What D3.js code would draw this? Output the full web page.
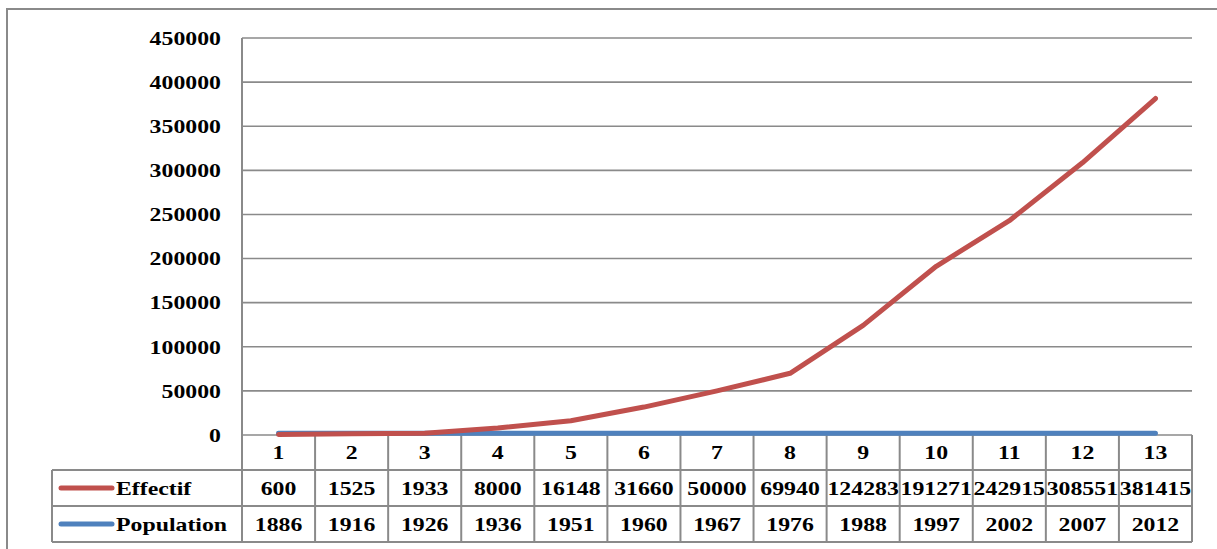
<!DOCTYPE html>
<html><head><meta charset="utf-8">
<script src="https://cdn.jsdelivr.net/npm/d3@7"></script>
<style>body{margin:0;background:#fff}svg{display:block}</style>
</head><body>
<script>
const categories = [1,2,3,4,5,6,7,8,9,10,11,12,13];
const effectif = [600,1525,1933,8000,16148,31660,50000,69940,124283,191271,242915,308551,381415];
const population = [1886,1916,1926,1936,1951,1960,1967,1976,1988,1997,2002,2007,2012];
const yTicks = [0,50000,100000,150000,200000,250000,300000,350000,400000,450000];
const seriesNames = ["Effectif","Population"];
const colors = ["#C0504D","#4F81BD"];

const W=1217,H=549;
const L=242,R=1192,T=38,B=435;
const rowTop=[435,470,506], rowBot=542, tableLeft=52;
const sx=1.22, fs=19.5;

const svg=d3.select("body").append("svg").attr("width",W).attr("height",H);
svg.append("rect").attr("x",7).attr("y",9).attr("width",1230).attr("height",560)
  .attr("fill","none").attr("stroke","#8a8a8a").attr("stroke-width",2);

const x=d3.scaleBand().domain(categories).range([L,R]);
const cx=c=>x(c)+x.bandwidth()/2;
const y=d3.scaleLinear().domain([0,450000]).range([B,T]);

function txt(g,xp,yp,s,anchor){
  const t=g.append("text").attr("x",xp).attr("y",yp)
    .attr("text-anchor",anchor).attr("dy","0.35em")
    .style("font-family",'"Liberation Serif"').style("font-weight","bold")
    .style("font-size",fs+"px").attr("fill","#000").text(s);
  const w=t.node().getComputedTextLength();
  t.attr("textLength",w*sx).attr("lengthAdjust","spacingAndGlyphs");
  return t;
}

// gridlines
const grid=svg.append("g");
yTicks.forEach(t=>{
  grid.append("line").attr("x1",L).attr("x2",R).attr("y1",y(t)).attr("y2",y(t))
    .attr("stroke","#8a8a8a").attr("stroke-width",1.6);
  txt(grid,221,y(t),d3.format("d")(t),"end");
});

// table
const tb=svg.append("g").attr("stroke","#8a8a8a").attr("stroke-width",2).attr("fill","none");
tb.append("line").attr("x1",L).attr("x2",L).attr("y1",T).attr("y2",rowBot);
tb.append("line").attr("x1",R).attr("x2",R).attr("y1",B).attr("y2",rowBot);
tb.append("line").attr("x1",tableLeft).attr("x2",tableLeft).attr("y1",rowTop[1]).attr("y2",rowBot);
tb.append("line").attr("x1",tableLeft).attr("x2",R).attr("y1",rowTop[1]).attr("y2",rowTop[1]);
tb.append("line").attr("x1",tableLeft).attr("x2",R).attr("y1",rowTop[2]).attr("y2",rowTop[2]);
tb.append("line").attr("x1",tableLeft).attr("x2",R).attr("y1",rowBot).attr("y2",rowBot);
categories.forEach(c=>{
  tb.append("line").attr("x1",x(c)).attr("x2",x(c)).attr("y1",B).attr("y2",rowBot);
});

const tg=svg.append("g");
categories.forEach((c,i)=>{
  txt(tg,cx(c),(rowTop[0]+rowTop[1])/2,String(c),"middle");
  txt(tg,cx(c),(rowTop[1]+rowTop[2])/2,String(effectif[i]),"middle");
  txt(tg,cx(c),(rowTop[2]+rowBot)/2,String(population[i]),"middle");
});
// legend keys in table
[[rowTop[1],rowTop[2]],[rowTop[2],rowBot]].forEach((r,k)=>{
  const ym=(r[0]+r[1])/2;
  tg.append("line").attr("x1",61).attr("x2",112).attr("y1",ym).attr("y2",ym)
    .attr("stroke",colors[k]).attr("stroke-width",5).attr("stroke-linecap","round");
  txt(tg,116,ym,seriesNames[k],"start");
});

// lines
const line=d3.line().x((d,i)=>cx(categories[i])).y(d=>y(d));
svg.append("path").datum(population).attr("d",line).attr("fill","none")
  .attr("stroke",colors[1]).attr("stroke-width",5).attr("stroke-linecap","round").attr("stroke-linejoin","round");
svg.append("path").datum(effectif).attr("d",line).attr("fill","none")
  .attr("stroke",colors[0]).attr("stroke-width",5).attr("stroke-linecap","round").attr("stroke-linejoin","round");
</script>
</body></html>
